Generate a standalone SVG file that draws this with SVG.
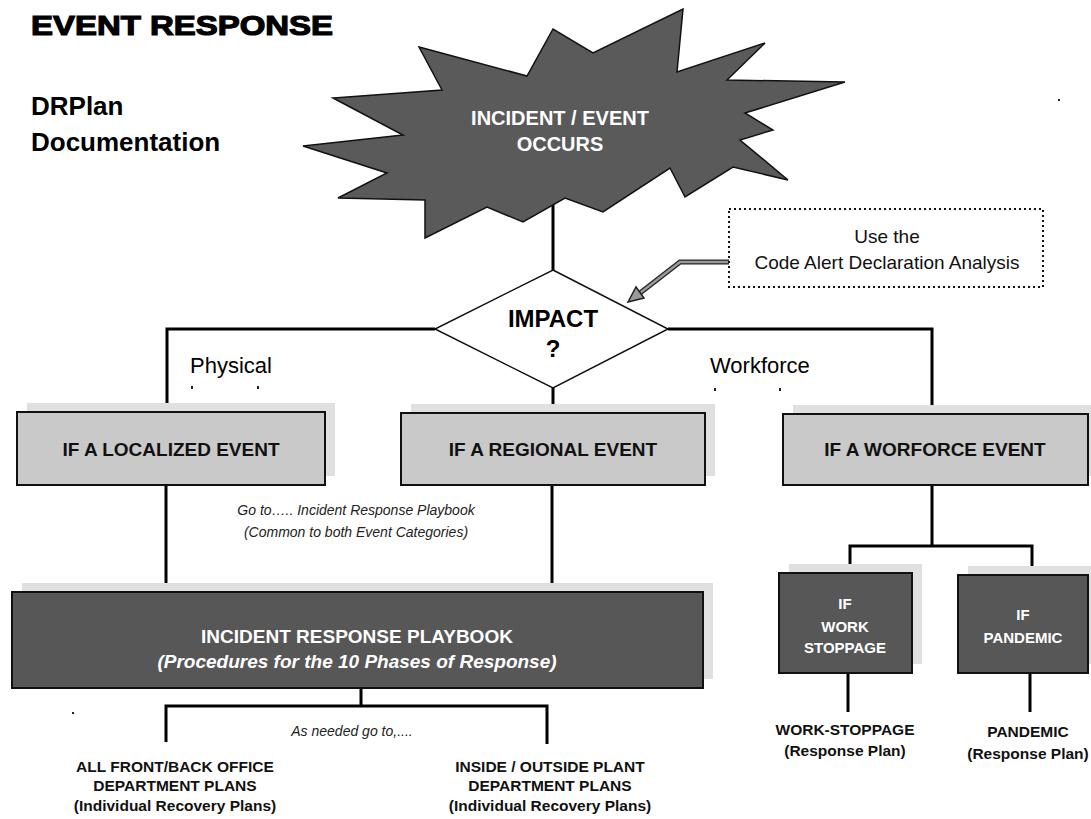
<svg xmlns="http://www.w3.org/2000/svg" width="1091" height="819" viewBox="0 0 1091 819">
<style>
text{font-family:"Liberation Sans",Arial,sans-serif}
.title{font-size:28px;font-weight:bold;stroke:#000;stroke-width:1.2}
.sub{font-size:26px;font-weight:bold}
.lbl{font-size:22px}
.light{fill:#c9c9c9;stroke:#111;stroke-width:2}
.shadow{fill:#e0e0e0}
.dark{fill:#575757;stroke:#111;stroke-width:2}
.bt{font-size:19px;font-weight:bold;text-anchor:middle;fill:#111}
.wt{font-weight:bold;text-anchor:middle;fill:#fff}
.ln{stroke:#000;stroke-width:3;fill:none}
.it{font-style:italic;font-size:14px;text-anchor:middle;fill:#222}
.bot{font-size:15.5px;font-weight:bold;text-anchor:middle;fill:#111}
.dot{fill:#222}
</style>
<rect width="1091" height="819" fill="#fff"/>

<g id="title">
<text x="31" y="35" class="title" textLength="302" lengthAdjust="spacingAndGlyphs">EVENT RESPONSE</text>
<text x="31" y="115" class="sub">DRPlan</text>
<text x="31" y="151" class="sub">Documentation</text>
</g>

<g id="connectors">
<line class="ln" x1="553" y1="200" x2="553" y2="270"/>
<polyline class="ln" points="435,329 167,329 167,412"/>
<polyline class="ln" points="668,329 932,329 932,414"/>
<line class="ln" x1="553" y1="388" x2="553" y2="413"/>
<line class="ln" x1="166" y1="485" x2="166" y2="592"/>
<line class="ln" x1="552" y1="485" x2="552" y2="592"/>
<line class="ln" x1="361" y1="688" x2="361" y2="706"/>
<polyline class="ln" points="166,742 166,706 547,706 547,744"/>
<line class="ln" x1="932" y1="485" x2="932" y2="546"/>
<polyline class="ln" points="850,573 850,546 1032,546 1032,575"/>
<line class="ln" x1="848" y1="673" x2="848" y2="712"/>
<line class="ln" x1="1030" y1="673" x2="1030" y2="712"/>
<g id="note-arrow">
<polyline points="729,262 680,262 640,293" fill="none" stroke="#222" stroke-width="5"/>
<polyline points="729,262 680,262 640,293" fill="none" stroke="#9a9a9a" stroke-width="2.5"/>
<polygon points="628,302 644,298 636,287" fill="#9a9a9a" stroke="#222" stroke-width="1.5"/>
</g>
</g>

<g id="burst">
<polygon points="303,146 403,135 333,98 442,90 419,47 527,76 553,29 593,53 683,9 677,72 765,43 727,80 845,82 745,113 773,130 740,140 788,180 733,167 685,197 670,168 603,212 565,198 523,222 487,207 425,238 425,200 338,198 387,173" fill="#5a5a5a" stroke="#111" stroke-width="1.5" stroke-linejoin="miter"/>
<text x="560" y="125" class="wt" font-size="20">INCIDENT  / EVENT</text>
<text x="560" y="151" class="wt" font-size="20">OCCURS</text>
</g>

<g id="note">
<rect x="729" y="209" width="314" height="78" fill="#fff" stroke="#111" stroke-width="2" stroke-dasharray="2,3"/>
<text x="887" y="243" font-size="19" text-anchor="middle" fill="#111">Use the</text>
<text x="887" y="269" font-size="19" text-anchor="middle" fill="#111">Code Alert Declaration Analysis</text>
</g>

<g id="impact">
<polygon points="553,270 668,329 553,388 435,329" fill="#fff" stroke="#111" stroke-width="1.5"/>
<text x="553" y="327" font-size="24" font-weight="bold" text-anchor="middle">IMPACT</text>
<text x="553" y="357" font-size="24" font-weight="bold" text-anchor="middle">?</text>
</g>

<g id="labels">
<text x="190" y="373" class="lbl">Physical</text>
<text x="710" y="373" class="lbl">Workforce</text>
<rect class="dot" x="191" y="386" width="2" height="3"/>
<rect class="dot" x="257" y="386" width="2" height="3"/>
<rect class="dot" x="714" y="388" width="2" height="3"/>
<rect class="dot" x="779" y="388" width="2" height="3"/>
<rect class="dot" x="1058" y="99" width="2" height="2"/>
<rect class="dot" x="72" y="712" width="2" height="2"/>
</g>

<g id="localized">
<rect class="shadow" x="27" y="403" width="308" height="73"/>
<rect class="light" x="17" y="412" width="308" height="73"/>
<text x="171" y="456" class="bt">IF A LOCALIZED EVENT</text>
</g>

<g id="regional">
<rect class="shadow" x="411" y="404" width="304" height="72"/>
<rect class="light" x="401" y="413" width="304" height="72"/>
<text x="553" y="456" class="bt">IF A REGIONAL EVENT</text>
</g>

<g id="workforce">
<rect class="shadow" x="793" y="405" width="305" height="71"/>
<rect class="light" x="783" y="414" width="305" height="71"/>
<text x="935" y="456" class="bt">IF A WORFORCE EVENT</text>
</g>

<g id="goto">
<text x="356" y="515" class="it">Go to….. Incident Response Playbook</text>
<text x="356" y="537" class="it">(Common to both Event Categories)</text>
</g>

<g id="playbook">
<rect class="shadow" x="22" y="583" width="691" height="96"/>
<rect class="dark" x="12" y="592" width="691" height="96"/>
<text x="357" y="643" class="wt" font-size="19">INCIDENT RESPONSE PLAYBOOK</text>
<text x="357" y="668" class="wt" font-size="19" font-style="italic">(Procedures for the 10 Phases of Response)</text>
</g>

<g id="workstoppage">
<rect class="shadow" x="789" y="564" width="133" height="100"/>
<rect class="dark" x="779" y="573" width="133" height="100"/>
<text x="845" y="609" class="wt" font-size="15">IF</text>
<text x="845" y="632" class="wt" font-size="15">WORK</text>
<text x="845" y="653" class="wt" font-size="15">STOPPAGE</text>
</g>

<g id="pandemic">
<rect class="shadow" x="968" y="566" width="130" height="98"/>
<rect class="dark" x="958" y="575" width="130" height="98"/>
<text x="1023" y="620" class="wt" font-size="15">IF</text>
<text x="1023" y="643" class="wt" font-size="15">PANDEMIC</text>
</g>

<g id="asneeded">
<text x="352" y="736" class="it">As needed go to,....</text>
</g>

<g id="frontback">
<text x="175" y="772" class="bot">ALL FRONT/BACK OFFICE</text>
<text x="175" y="791" class="bot">DEPARTMENT PLANS</text>
<text x="175" y="811" class="bot">(Individual Recovery Plans)</text>
</g>

<g id="insideoutside">
<text x="550" y="772" class="bot">INSIDE / OUTSIDE PLANT</text>
<text x="550" y="791" class="bot">DEPARTMENT PLANS</text>
<text x="550" y="811" class="bot">(Individual Recovery Plans)</text>
</g>

<g id="wsplan">
<text x="845" y="735" class="bot">WORK-STOPPAGE</text>
<text x="845" y="756" class="bot">(Response Plan)</text>
</g>

<g id="pdplan">
<text x="1028" y="737" class="bot">PANDEMIC</text>
<text x="1028" y="759" class="bot">(Response Plan)</text>
</g>
</svg>
